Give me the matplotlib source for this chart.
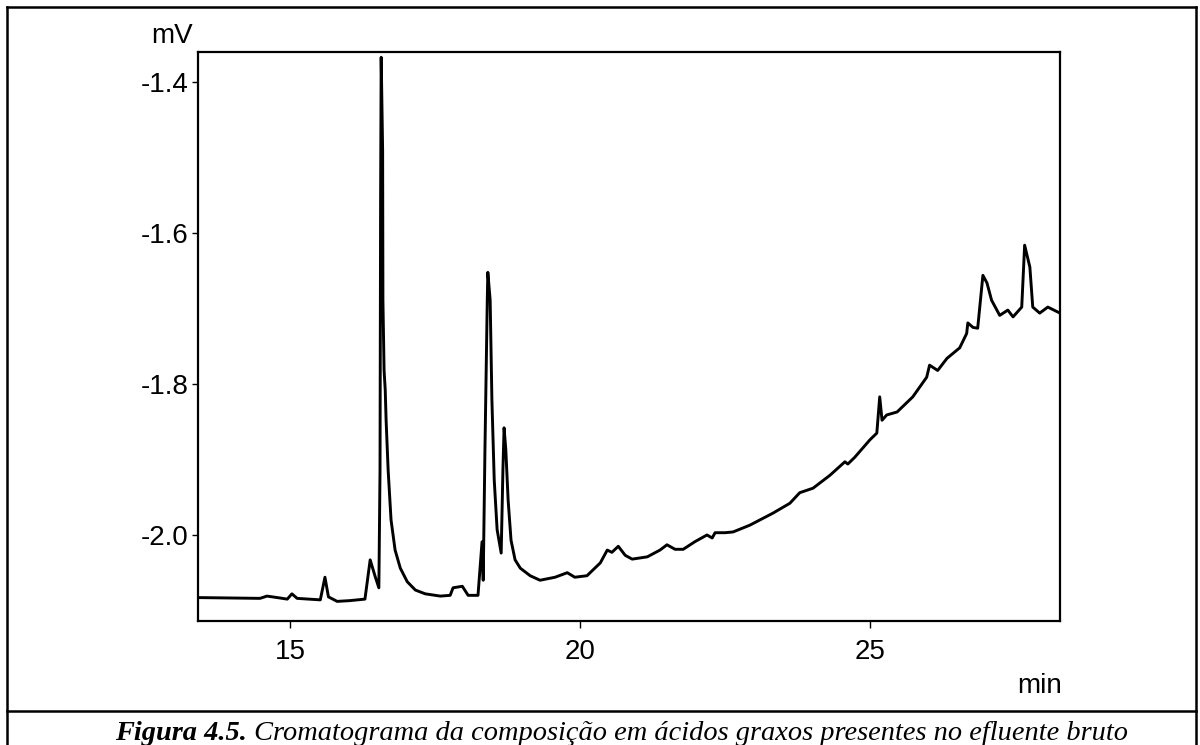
import matplotlib
matplotlib.use("Agg")
import matplotlib.pyplot as plt
from matplotlib.lines import Line2D

# Retention time (min) and detector signal (mV)
time_min = [13.45, 14.48, 14.60, 14.78, 14.95, 15.03, 15.12, 15.52, 15.60, 15.66,
            15.81, 16.03, 16.29, 16.38, 16.47, 16.53, 16.55, 16.56, 16.57, 16.595,
            16.60, 16.62, 16.64, 16.655, 16.69, 16.74, 16.81, 16.90, 17.02, 17.16,
            17.33, 17.59, 17.76, 17.81, 17.97, 18.07, 18.24, 18.31, 18.33, 18.36,
            18.40, 18.41, 18.45, 18.48, 18.52, 18.57, 18.64, 18.67, 18.69, 18.72,
            18.76, 18.81, 18.88, 18.97, 19.14, 19.31, 19.57, 19.78, 19.91, 20.12,
            20.35, 20.47, 20.55, 20.66, 20.78, 20.90, 21.16, 21.38, 21.50, 21.64,
            21.78, 21.98, 22.19, 22.28, 22.33, 22.50, 22.64, 22.93, 23.33, 23.62,
            23.79, 24.02, 24.31, 24.57, 24.62, 24.74, 25.00, 25.12, 25.17, 25.21,
            25.29, 25.47, 25.74, 25.98, 26.03, 26.17, 26.33, 26.55, 26.67, 26.69,
            26.78, 26.86, 26.95, 27.02, 27.10, 27.24, 27.38, 27.47, 27.62, 27.67,
            27.76, 27.81, 27.93, 28.07, 28.28]
signal_mv = [-2.083, -2.084, -2.081, -2.083, -2.085, -2.078, -2.084, -2.086, -2.056, -2.082,
             -2.088, -2.087, -2.085, -2.033, -2.056, -2.070, -1.914, -1.556, -1.367, -1.490,
             -1.689, -1.782, -1.808, -1.848, -1.914, -1.980, -2.020, -2.044, -2.062, -2.073,
             -2.078, -2.081, -2.080, -2.070, -2.068, -2.080, -2.080, -2.009, -2.060, -1.887,
             -1.689, -1.652, -1.689, -1.821, -1.927, -1.993, -2.024, -1.914, -1.858, -1.887,
             -1.954, -2.007, -2.033, -2.044, -2.054, -2.060, -2.056, -2.050, -2.056, -2.054,
             -2.037, -2.020, -2.023, -2.015, -2.027, -2.032, -2.029, -2.020, -2.013, -2.019,
             -2.019, -2.009, -2.000, -2.004, -1.997, -1.997, -1.996, -1.987, -1.971, -1.958,
             -1.944, -1.938, -1.921, -1.903, -1.906, -1.897, -1.874, -1.865, -1.817, -1.848,
             -1.841, -1.837, -1.817, -1.791, -1.775, -1.782, -1.766, -1.752, -1.733, -1.719,
             -1.725, -1.726, -1.656, -1.666, -1.689, -1.709, -1.702, -1.711, -1.698, -1.616,
             -1.645, -1.698, -1.706, -1.698, -1.706]

x_ticks = [15, 20, 25]
x_tick_labels = ["15", "20", "25"]
y_ticks = [-2.0, -1.8, -1.6, -1.4]
y_tick_labels = ["-2.0", "-1.8", "-1.6", "-1.4"]
x_unit = "min"
y_unit = "mV"
caption_bold = "Figura 4.5."
caption_rest = " Cromatograma da composição em ácidos graxos presentes no efluente bruto"

W, H = 1200, 745
fig = plt.figure(figsize=(W / 100, H / 100), dpi=100)
fig.patch.set_facecolor("white")

def fx(px):
    return px / W
def fy(py):
    return 1 - py / H

# Outer frame with caption row
frame_kw = dict(color="black", linewidth=1.8, transform=fig.transFigure)
fig.add_artist(Line2D([fx(7), fx(7)], [fy(7), fy(745)], **frame_kw))
fig.add_artist(Line2D([fx(1196), fx(1196)], [fy(7), fy(745)], **frame_kw))
fig.add_artist(Line2D([fx(7), fx(1196)], [fy(7), fy(7)], **frame_kw))
fig.add_artist(Line2D([fx(7), fx(1196)], [fy(711), fy(711)], **frame_kw))

ax = fig.add_axes([fx(198), fy(621), fx(1060) - fx(198), fy(52) - fy(621)])
ax.plot(time_min, signal_mv, color="black", linewidth=2.1, solid_joinstyle="round")
ax.set_xlim(13.41, 28.28)
ax.set_ylim(-2.114, -1.360)

ax.set_xticks(x_ticks)
ax.set_xticklabels(x_tick_labels)
ax.set_yticks(y_ticks)
ax.set_yticklabels(y_tick_labels)
sans = "Liberation Sans"
for lab in ax.get_xticklabels() + ax.get_yticklabels():
    lab.set_fontfamily(sans)
    lab.set_fontsize(20)
ax.tick_params(axis="x", direction="out", length=5, width=1.0, pad=8)
ax.tick_params(axis="y", direction="out", length=4, width=1.0, pad=3)
for sp in ax.spines.values():
    sp.set_linewidth(1.6)
    sp.set_color("black")

fig.text(fx(172), fy(36), y_unit, ha="center", va="center", fontsize=20, family=sans)
fig.text(fx(1040), fy(686), x_unit, ha="center", va="center", fontsize=20, family=sans)

serif = "Liberation Serif"
t1 = fig.text(fx(115), fy(740), caption_bold, ha="left", va="baseline",
              fontsize=20.4, family=serif, fontweight="bold", fontstyle="italic")
fig.canvas.draw()
bb = t1.get_window_extent()
fig.text(bb.x1 / W, fy(740), caption_rest, ha="left", va="baseline",
         fontsize=20.4, family=serif, fontstyle="italic")

fig.savefig("out.png", dpi=100, facecolor="white")
